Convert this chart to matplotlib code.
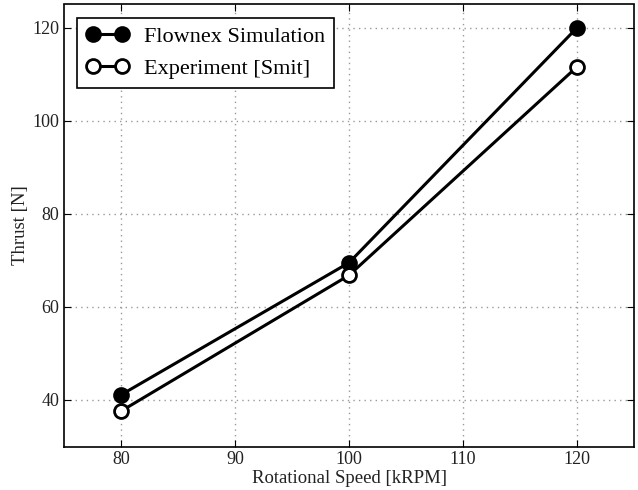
import matplotlib
matplotlib.use("Agg")
import matplotlib.pyplot as plt

speed = [80, 100, 120]
flownex = [41.1, 69.5, 120.0]
experiment = [37.6, 66.8, 111.6]

plt.rcParams['font.family'] = ['Liberation Serif', 'DejaVu Serif']

fig = plt.figure(figsize=(6.38, 4.9), dpi=100)
ax = fig.add_axes([64 / 638, 1 - 446.5 / 490, 570 / 638, 442 / 490])

ax.plot(speed, flownex, color='black', lw=2.2, marker='o', ms=10,
        mfc='black', mec='black', mew=2, label='Flownex Simulation')
ax.plot(speed, experiment, color='black', lw=2.2, marker='o', ms=10,
        mfc='white', mec='black', mew=2, label='Experiment [Smit]')

ax.set_xlim(75, 125)
ax.set_ylim(30, 125)
ax.set_xticks([80, 90, 100, 110, 120])
ax.set_yticks([40, 60, 80, 100, 120])
ax.tick_params(direction='in', top=True, right=True, labelsize=13, length=5,
               labelcolor='#222222')
ax.grid(True, linestyle=(0, (1, 3)), color='#999999', lw=1)
for s in ax.spines.values():
    s.set_linewidth(1.2)

ax.set_xlabel('Rotational Speed [kRPM]', fontsize=13.5, labelpad=1, color='#222222')
ax.set_ylabel('Thrust [N]', fontsize=13.5, labelpad=2, color='#222222')

leg = ax.legend(loc='upper left', fontsize=16, fancybox=False, edgecolor='black',
                framealpha=1, numpoints=2, handlelength=1.9, handletextpad=0.7,
                borderaxespad=0.6, labelspacing=0.5)
leg.get_frame().set_linewidth(1.2)

fig.savefig('out.png', dpi=100)
